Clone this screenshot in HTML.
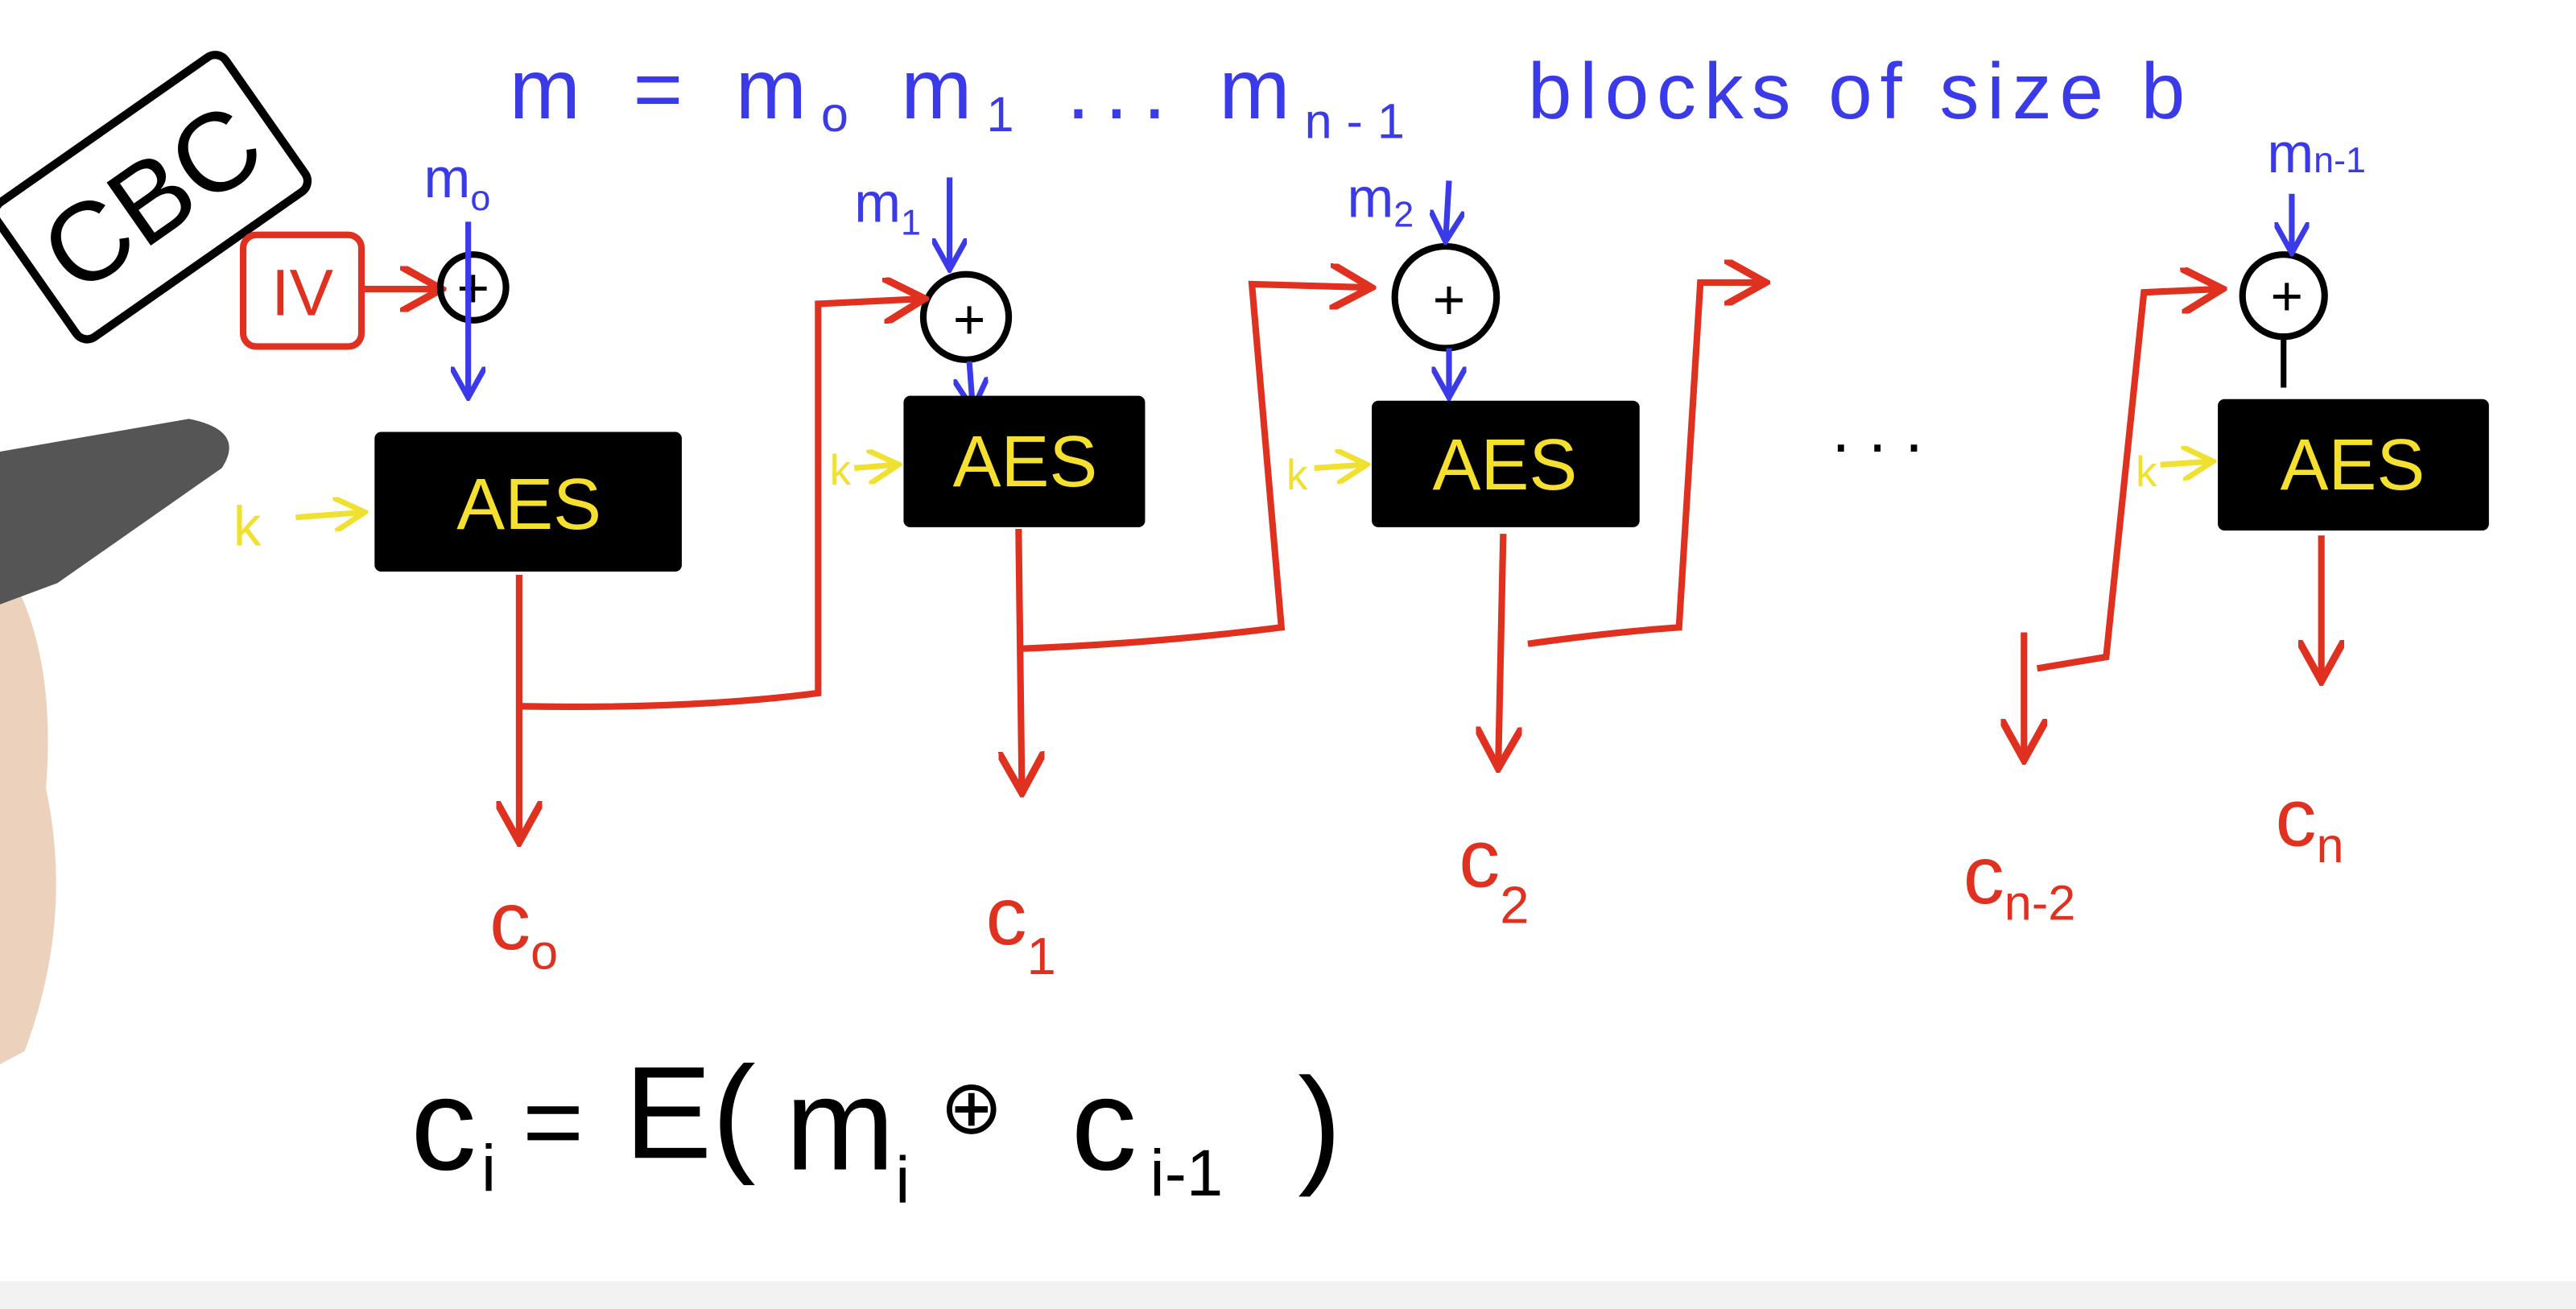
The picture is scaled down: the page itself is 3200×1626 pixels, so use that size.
<!DOCTYPE html>
<html><head><meta charset="utf-8"><style>
html,body{margin:0;padding:0;background:#fff;}
svg{display:block;}
text{font-family:"Liberation Sans",sans-serif;}
</style></head><body>
<svg width="3200" height="1626" viewBox="0 0 1568 797" preserveAspectRatio="none" xmlns="http://www.w3.org/2000/svg">
<defs>
<marker id="ar" viewBox="0 0 10 10" refX="8" refY="5" markerWidth="7" markerHeight="7" orient="auto-start-reverse"><path d="M0,0 L9,5 L0,10" fill="none" stroke="#e03020" stroke-width="1.6"/></marker>
<marker id="ab" viewBox="0 0 10 10" refX="8" refY="5" markerWidth="6" markerHeight="6" orient="auto"><path d="M0,0 L9,5 L0,10" fill="none" stroke="#3a3ae8" stroke-width="1.6"/></marker>
<marker id="ay" viewBox="0 0 10 10" refX="8" refY="5" markerWidth="6" markerHeight="6" orient="auto"><path d="M0,0 L9,5 L0,10" fill="none" stroke="#f0e030" stroke-width="1.6"/></marker>
</defs>
<rect width="1568" height="797" fill="#fff"/>
<rect x="0" y="780" width="1568" height="17" fill="#f2f2f2"/>
<path d="M0,340 Q35,390 28,480 Q45,560 15,640 L0,648 Z" fill="#ecd2bc"/>
<path d="M0,275 L115,255 Q150,262 135,285 L35,355 L0,368 Z" fill="#555"/>
<text x="310" y="72" font-size="52" fill="#3a3ae8" textLength="545" lengthAdjust="spacing">m = m<tspan font-size="30" dy="8">o</tspan><tspan dy="-8"> m</tspan><tspan font-size="30" dy="8">1</tspan><tspan dy="-8"> ... m</tspan><tspan font-size="30" dy="12">n-1</tspan></text>
<text x="930" y="72" font-size="48" fill="#3a3ae8" textLength="400" lengthAdjust="spacing">blocks of size b</text>
<g transform="translate(92,120) rotate(-35)">
<rect x="-85" y="-50" width="170" height="100" rx="8" fill="#fff" stroke="#000" stroke-width="5"/>
<text x="0" y="24" font-size="68" text-anchor="middle" fill="#000">CBC</text>
</g>
<rect x="148" y="143" width="72" height="68" rx="8" fill="none" stroke="#e03020" stroke-width="4"/>
<text x="184" y="192" font-size="40" text-anchor="middle" fill="#e03020">IV</text>
<path d="M222,176 L266,176" stroke="#e03020" stroke-width="4" marker-end="url(#ar)" fill="none"/>
<g fill="none" stroke="#000" stroke-width="4">
<circle cx="288" cy="175" r="20"/>
<circle cx="588" cy="193" r="26"/>
<circle cx="880" cy="181" r="31"/>
<circle cx="1390" cy="180" r="25"/>
</g>
<g font-size="34" fill="#000" text-anchor="middle">
<text x="288" y="187">+</text><text x="590" y="206">+</text><text x="882" y="194">+</text><text x="1392" y="192">+</text>
</g>
<g font-size="34" fill="#3a3ae8">
<text x="258" y="120">m<tspan font-size="22" dy="8">o</tspan></text>
<text x="520" y="135">m<tspan font-size="22" dy="8">1</tspan></text>
<text x="820" y="132">m<tspan font-size="22" dy="6">2</tspan></text>
<text x="1380" y="105">m<tspan font-size="22" dy="0">n-1</tspan></text>
</g>
<g stroke="#3a3ae8" stroke-width="3.5" fill="none">
<path d="M285,135 L285,240" marker-end="url(#ab)"/>
<path d="M578,108 L578,162" marker-end="url(#ab)"/>
<path d="M590,220 L592,247" marker-end="url(#ab)"/>
<path d="M882,110 L880,145" marker-end="url(#ab)"/>
<path d="M882,212 L882,240" marker-end="url(#ab)"/>
<path d="M1395,118 L1395,152" marker-end="url(#ab)"/>
</g>
<path d="M1390,206 L1390,236" stroke="#000" stroke-width="3.5" fill="none"/>
<g fill="#000">
<rect x="228" y="263" width="187" height="85" rx="4"/>
<rect x="550" y="241" width="147" height="80" rx="4"/>
<rect x="835" y="244" width="163" height="77" rx="4"/>
<rect x="1350" y="243" width="165" height="80" rx="4"/>
</g>
<g font-size="44" fill="#f5e030" text-anchor="middle">
<text x="322" y="322">AES</text><text x="624" y="296">AES</text><text x="916" y="298">AES</text><text x="1432" y="298">AES</text>
</g>
<g font-size="34" fill="#f0e030"><text x="142" y="332">k</text><text x="505" y="295" font-size="26">k</text><text x="783" y="298" font-size="26">k</text><text x="1300" y="296" font-size="26">k</text></g>
<g stroke="#f0e030" stroke-width="3.5" fill="none">
<path d="M180,315 L220,312" marker-end="url(#ay)"/>
<path d="M520,285 L545,283" marker-end="url(#ay)"/>
<path d="M800,285 L830,283" marker-end="url(#ay)"/>
<path d="M1315,283 L1345,281" marker-end="url(#ay)"/>
</g>
<text x="1115" y="275" font-size="40" fill="#000">. . .</text>
<g stroke="#e03020" stroke-width="4" fill="none">
<path d="M316,350 L316,510" marker-end="url(#ar)"/>
<path d="M316,430 Q420,432 498,422 L498,185 L560,182" marker-end="url(#ar)"/>
<path d="M620,322 L622,480" marker-end="url(#ar)"/>
<path d="M620,395 Q700,392 780,382 L762,173 L832,175" marker-end="url(#ar)"/>
<path d="M915,325 L912,465" marker-end="url(#ar)"/>
<path d="M930,392 Q980,385 1022,382 L1035,172 L1072,172" marker-end="url(#ar)"/>
<path d="M1232,385 L1232,460" marker-end="url(#ar)"/>
<path d="M1240,407 L1282,400 L1305,178 L1350,176" marker-end="url(#ar)"/>
<path d="M1413,326 L1413,412" marker-end="url(#ar)"/>
</g>
<g font-size="50" fill="#e03020">
<text x="298" y="578">c<tspan font-size="30" dy="12">o</tspan></text>
<text x="600" y="575">c<tspan font-size="32" dy="18">1</tspan></text>
<text x="888" y="540">c<tspan font-size="32" dy="22">2</tspan></text>
<text x="1195" y="550">c<tspan font-size="30" dy="10">n-2</tspan></text>
<text x="1385" y="515">c<tspan font-size="30" dy="10">n</tspan></text>
</g>
<g fill="#000" font-size="80">
<text x="250" y="712">c</text>
<text x="293" y="725" font-size="40">i</text>
<text x="318" y="705" font-size="64">=</text>
<text x="380" y="705">E(</text>
<text x="478" y="712">m</text>
<text x="545" y="732" font-size="40">i</text>
<text x="572" y="690" font-size="46">⊕</text>
<text x="652" y="712">c</text>
<text x="700" y="728" font-size="40">i-1</text>
<text x="790" y="712">)</text>
</g>
</svg>
</body></html>
